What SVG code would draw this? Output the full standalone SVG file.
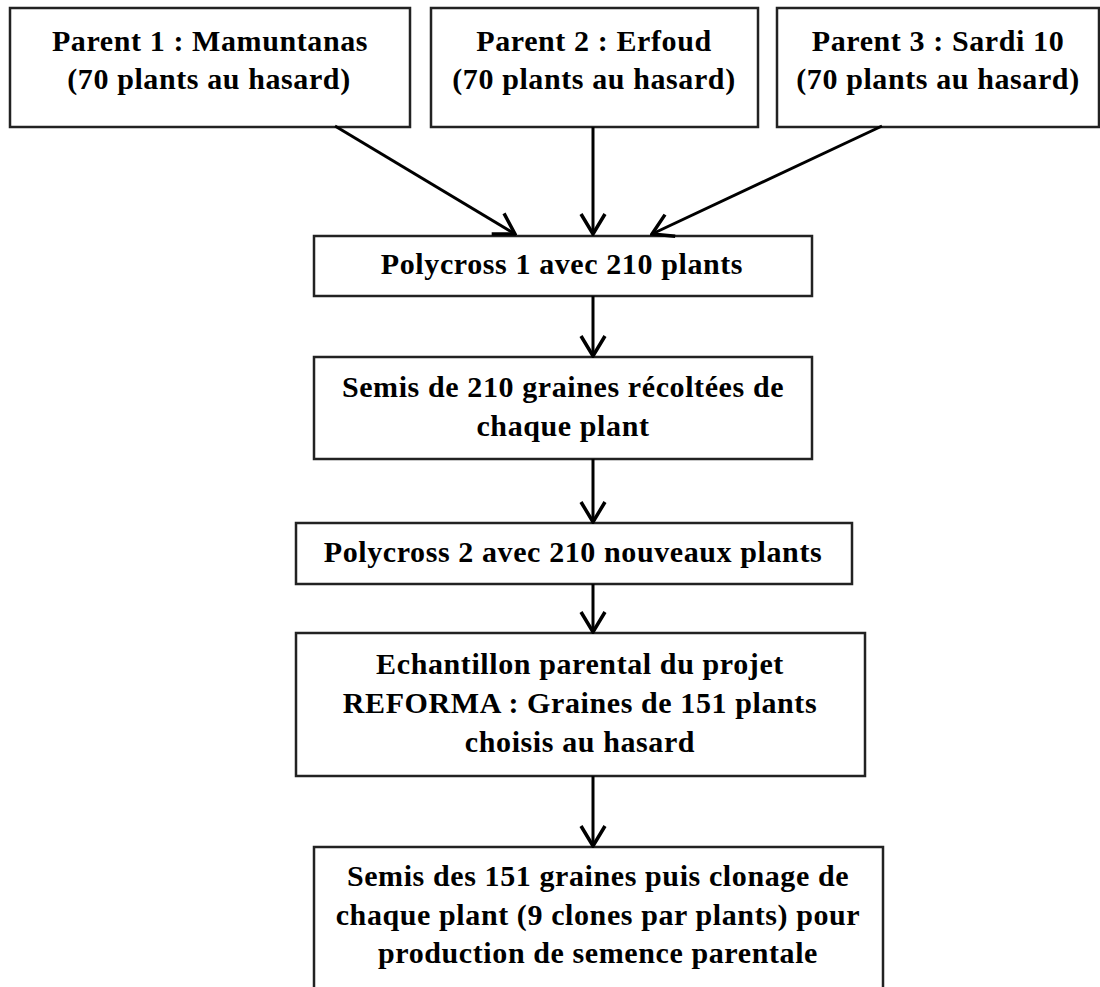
<svg xmlns="http://www.w3.org/2000/svg" width="1100" height="987" viewBox="0 0 1100 987">
<style>
.box{fill:#fff;stroke:#222;stroke-width:2.5}
.t{font-family:"Liberation Serif","Times New Roman",serif;font-weight:bold;font-size:30px;letter-spacing:0.6px;fill:#000;text-anchor:middle}
.c{stroke:#000;stroke-width:3;fill:none;marker-end:url(#ah)}
</style>
<defs>
<marker id="ah" markerUnits="userSpaceOnUse" viewBox="0 0 24 28" refX="22" refY="14" markerWidth="24" markerHeight="28" orient="auto">
<path d="M2,2 L22,14 L2,26" fill="none" stroke="#000" stroke-width="3.5"/>
</marker>
</defs>
<rect width="1100" height="987" fill="#fff"/>
<g id="p1"><rect class="box" x="10" y="8" width="400" height="119"/>
<text class="t" x="210" y="51">Parent 1 : Mamuntanas</text>
<text class="t" x="209" y="89">(70 plants au hasard)</text></g>
<g id="p2"><rect class="box" x="431" y="8" width="327" height="119"/>
<text class="t" x="594" y="51">Parent 2 : Erfoud</text>
<text class="t" x="594" y="89">(70 plants au hasard)</text></g>
<g id="p3"><rect class="box" x="777" y="8" width="322" height="119"/>
<text class="t" x="938" y="51">Parent 3 : Sardi 10</text>
<text class="t" x="938" y="89">(70 plants au hasard)</text></g>
<g id="poly1"><rect class="box" x="314" y="236" width="498" height="60"/>
<text class="t" x="562" y="274">Polycross 1 avec 210 plants</text></g>
<g id="semis1"><rect class="box" x="314" y="357" width="498" height="102"/>
<text class="t" x="563" y="397">Semis de 210 graines récoltées de</text>
<text class="t" x="563" y="436">chaque plant</text></g>
<g id="poly2"><rect class="box" x="296" y="523" width="556" height="61"/>
<text class="t" x="573" y="562">Polycross 2 avec 210 nouveaux plants</text></g>
<g id="echant"><rect class="box" x="296" y="633" width="569" height="143"/>
<text class="t" x="580" y="674">Echantillon parental du projet</text>
<text class="t" x="580" y="713">REFORMA : Graines de 151 plants</text>
<text class="t" x="580" y="752">choisis au hasard</text></g>
<g id="semis2"><rect class="box" x="314" y="847" width="569" height="150"/>
<text class="t" x="598" y="886">Semis des 151 graines puis clonage de</text>
<text class="t" x="598" y="925">chaque plant (9 clones par plants) pour</text>
<text class="t" x="598" y="963">production de semence parentale</text></g>
<g id="connectors">
<line class="c" x1="335" y1="126" x2="515" y2="234"/>
<line class="c" x1="593" y1="127" x2="593" y2="234"/>
<line class="c" x1="882" y1="126" x2="652" y2="234"/>
<line class="c" x1="593" y1="296" x2="593" y2="356"/>
<line class="c" x1="593" y1="459" x2="593" y2="522"/>
<line class="c" x1="593" y1="584" x2="593" y2="632"/>
<line class="c" x1="593" y1="776" x2="593" y2="846"/>
</g>
</svg>
